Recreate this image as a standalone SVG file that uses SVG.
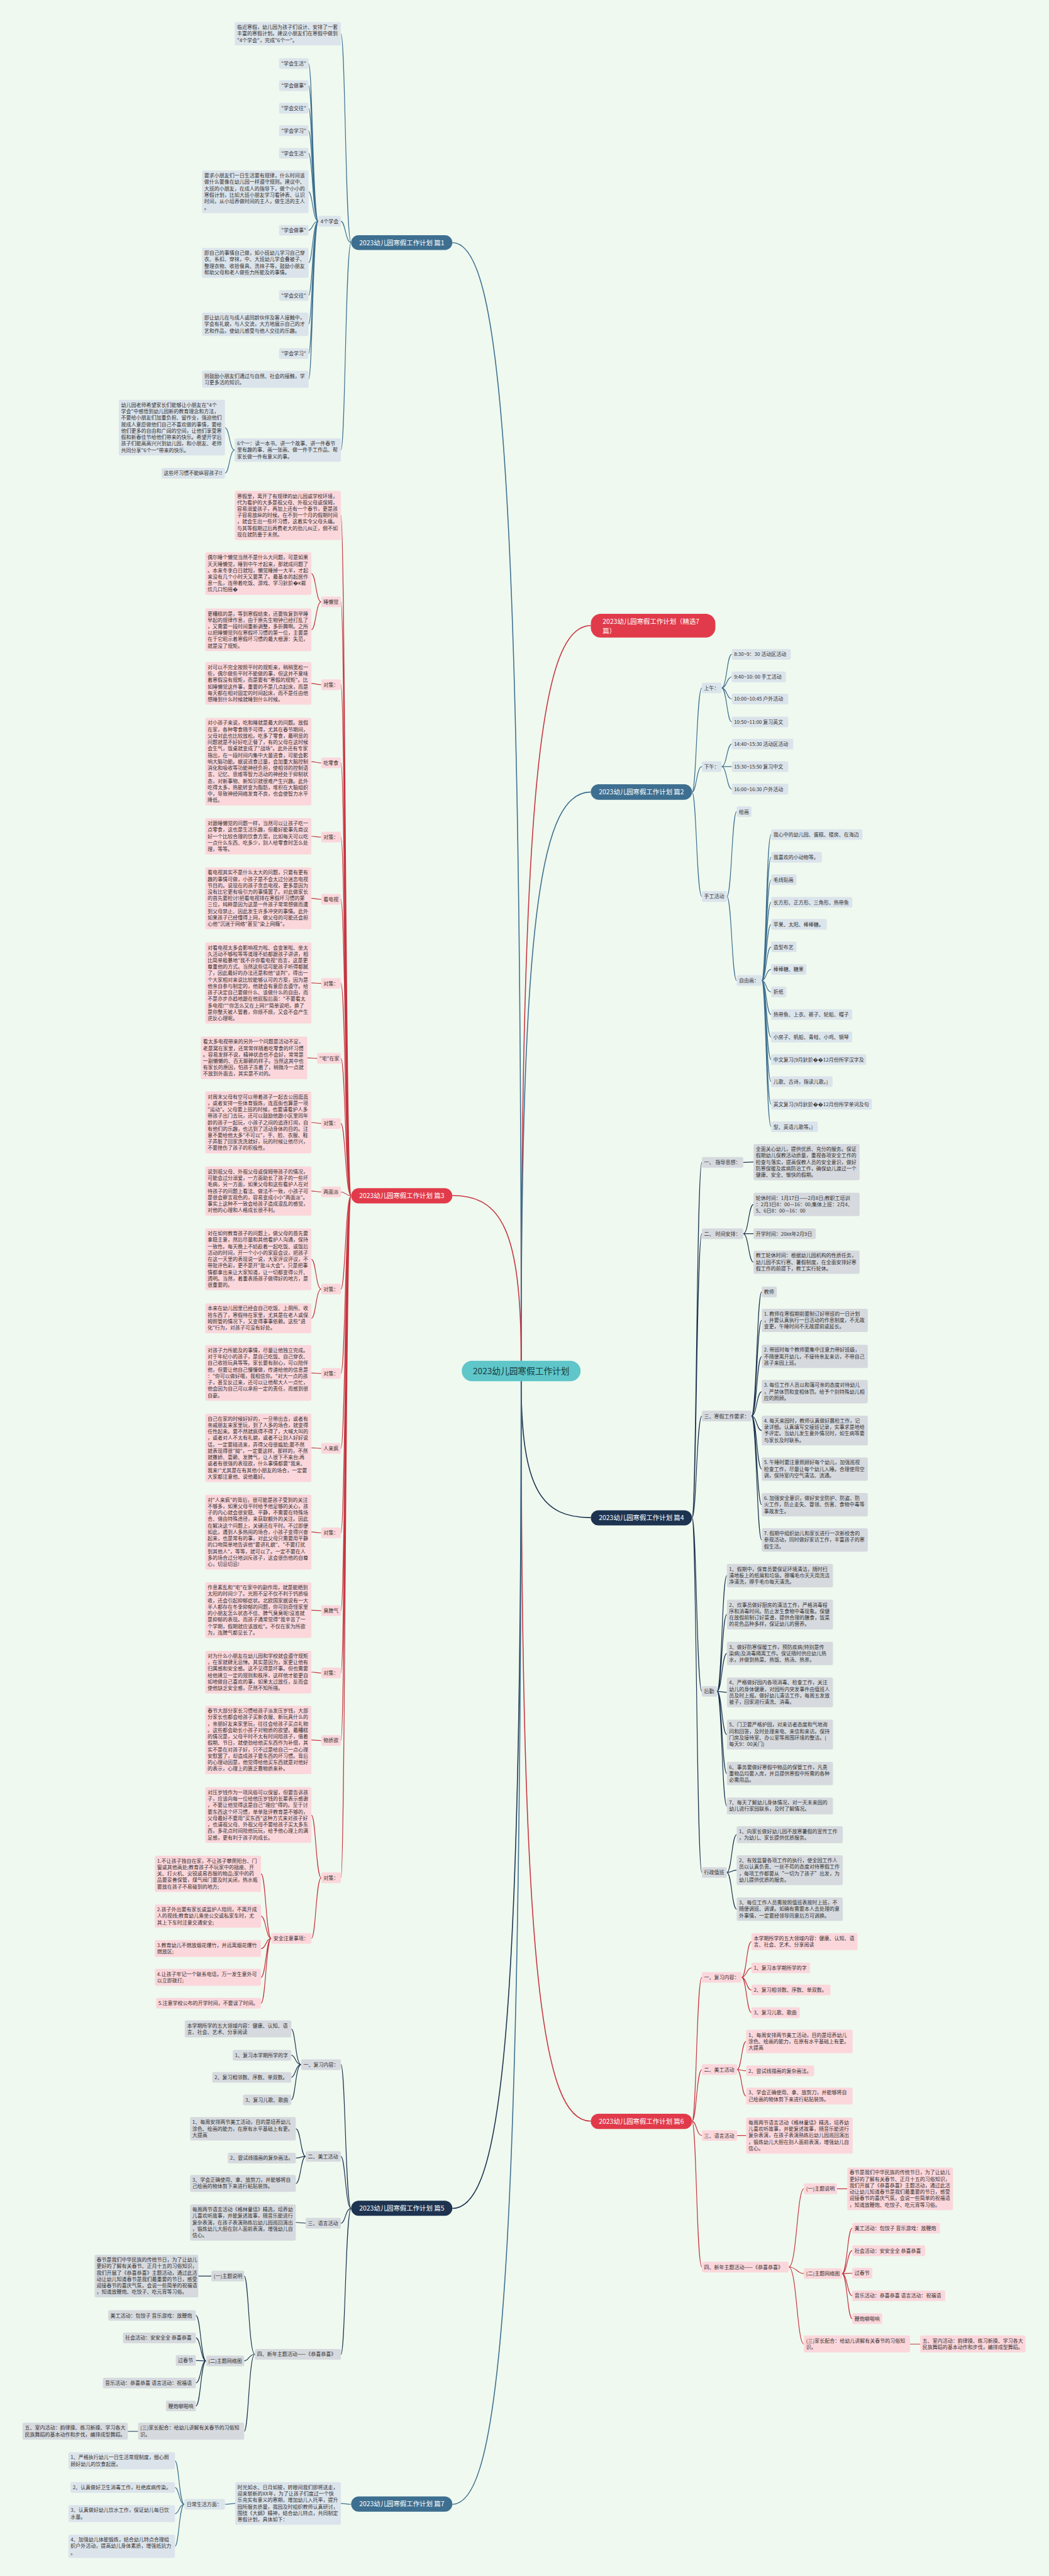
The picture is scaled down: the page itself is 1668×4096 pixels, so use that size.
<svg xmlns="http://www.w3.org/2000/svg" width="1668" height="4096" viewBox="0 0 1668 4096">
<style>
.t{font-family:"Noto Sans CJK SC","Noto Sans",sans-serif;font-size:12.3px;fill:#34302f}
.m{font-family:"Noto Sans CJK SC","Noto Sans",sans-serif;font-size:16px;fill:#fff;text-anchor:middle}
.bb{fill:#dbe4eb}.br{fill:#fbd7dc}.bn{fill:#d6dadf}
.cb{fill:#3e6f90}.cr{fill:#e13b4b}.cn{fill:#1d3350}
.lb,.lr,.ln{fill:none;stroke-width:1.8}
.lb{stroke:#3e6f90}.lr{stroke:#c73440}.ln{stroke:#1d3350}
.w{stroke-width:2.4}
</style>
<rect width="1668" height="4096" fill="#eff9ef"/>
<g transform="scale(0.6515)">
<g id="connectors">
<path class="lb w" d="M1272 3321C1272 1138 1222 592 1104 592"/>
<path class="lr w" d="M1272 3321C1272 1886 1323 1527 1442 1527"/>
<path class="lb w" d="M1272 3321C1272 2211 1323 1933 1442 1933"/>
<path class="lr w" d="M1272 3321C1272 2999 1222 2918 1104 2918"/>
<path class="ln w" d="M1272 3371C1272 3637 1323 3704 1442 3704"/>
<path class="lr w" d="M1272 3371C1272 4816 1323 5177 1442 5177"/>
<path class="ln w" d="M1272 3371C1272 4986 1222 5390 1104 5390"/>
<path class="lb w" d="M1272 3371C1272 5564 1222 6112 1104 6112"/>
<!-- p1 -->
<path class="lb" d="M857 592C843 592 843 82.5 832 82.5M857 592C843 592 843 540 832 540M857 592C843 592 843 1098.5 832 1098.5"/>
<path class="lb" d="M777 540C763 540 763 155 753 155M777 540C763 540 763 209 753 209M777 540C763 540 763 264 753 264M777 540C763 540 763 319 753 319M777 540C763 540 763 374 753 374M777 540C763 540 763 468 753 468M777 540C763 540 763 562 753 562M777 540C763 540 763 641.5 753 641.5M777 540C763 540 763 721 753 721M777 540C763 540 763 791.5 753 791.5M777 540C763 540 763 863 753 863M777 540C763 540 763 925.7 753 925.7"/>
<path class="lb" d="M573 1098.5C560 1098.5 560 1043.8 549 1043.8M573 1098.5C560 1098.5 560 1155 549 1155"/>
<!-- p7 -->
<path class="lb" d="M857 6112C845 6112 845 6110 832 6110M574 6110C561 6110 561 6112 549 6112M450 6112C437 6112 437 6006 427 6006M450 6112C437 6112 437 6071 427 6071M450 6112C437 6112 437 6135 427 6135M450 6112C437 6112 437 6214.5 427 6214.5"/>
<!-- p2 -->
<path class="lb" d="M1689 1933C1700 1933 1700 1679 1713 1679M1689 1933C1700 1933 1700 1871 1713 1871M1689 1933C1700 1933 1700 2188 1713 2188"/>
<path class="lb" d="M1761 1679C1774 1679 1774 1597 1786 1597M1761 1679C1774 1679 1774 1652 1786 1652M1761 1679C1774 1679 1774 1706 1786 1706M1761 1679C1774 1679 1774 1762 1786 1762M1761 1871C1774 1871 1774 1816 1786 1816M1761 1871C1774 1871 1774 1871 1786 1871M1761 1871C1774 1871 1774 1926 1786 1926"/>
<path class="lb" d="M1774 2188C1786 2188 1786 1981 1798 1981M1774 2188C1786 2188 1786 2393 1798 2393"/>
<path class="lb" d="M1859 2393C1870 2393 1870 2037 1882 2037M1859 2393C1870 2393 1870 2092 1882 2092M1859 2393C1870 2393 1870 2147 1882 2147M1859 2393C1870 2393 1870 2202 1882 2202M1859 2393C1870 2393 1870 2256 1882 2256M1859 2393C1870 2393 1870 2311 1882 2311M1859 2393C1870 2393 1870 2366 1882 2366M1859 2393C1870 2393 1870 2421 1882 2421M1859 2393C1870 2393 1870 2476 1882 2476M1859 2393C1870 2393 1870 2531 1882 2531M1859 2393C1870 2393 1870 2586 1882 2586M1859 2393C1870 2393 1870 2640 1882 2640M1859 2393C1870 2393 1870 2695 1882 2695M1859 2393C1870 2393 1870 2750 1882 2750"/>
<!-- p3 -->
<path class="lr" d="M857 2918C843 2918 843 1258 832 1258M857 2918C843 2918 843 1469 832 1469M857 2918C843 2918 843 1671 832 1671M857 2918C843 2918 843 1862 832 1862M857 2918C843 2918 843 2043 832 2043M857 2918C843 2918 843 2195 832 2195M857 2918C843 2918 843 2400 832 2400M857 2918C843 2918 843 2583 832 2583M857 2918C843 2918 843 2742 832 2742M857 2918C843 2918 843 2909 832 2909M857 2918C843 2918 843 3146 832 3146M857 2918C843 2918 843 3352 832 3352M857 2918C843 2918 843 3535 832 3535M857 2918C843 2918 843 3741 832 3741M857 2918C843 2918 843 3931 832 3931M857 2918C843 2918 843 4083 832 4083M857 2918C843 2918 843 4248 832 4248M857 2918C843 2918 843 4583 832 4583"/>
<path class="lr" d="M784 1469C771 1469 771 1400 760 1400M784 1469C771 1469 771 1537 760 1537M784 1671C771 1671 771 1668 760 1668M784 1862C771 1862 771 1859 760 1859M784 2043C771 2043 771 2041 760 2041M784 2195C771 2195 771 2192.5 760 2192.5M784 2400C771 2400 771 2399 760 2399M774 2583C762 2583 762 2582 750 2582M784 2742C771 2742 771 2739.5 760 2739.5M784 2909C771 2909 771 2907 760 2907M784 3146C771 3146 771 3073.5 760 3073.5M784 3146C771 3146 771 3217.5 760 3217.5M784 3352C771 3352 771 3351 760 3351M784 3535C771 3535 771 3533.5 760 3533.5M784 3741C771 3741 771 3739 760 3739M784 3931C771 3931 771 3930 760 3930M784 4083C771 4083 771 4081 760 4081M784 4248C771 4248 771 4246.5 760 4246.5M784 4583C771 4583 771 4430 760 4430M784 4583C771 4583 771 4731 760 4731"/>
<path class="lr" d="M662 4731C649 4731 649 4573 637 4573M662 4731C649 4731 649 4676.5 637 4676.5M662 4731C649 4731 649 4756 637 4756M662 4731C649 4731 649 4826 637 4826M662 4731C649 4731 649 4889 637 4889"/>
<!-- p6 -->
<path class="lr" d="M1689 5177C1700 5177 1700 4826 1713 4826M1689 5177C1700 5177 1700 5051 1713 5051M1689 5177C1700 5177 1700 5212 1713 5212M1689 5177C1700 5177 1700 5533 1713 5533"/>
<path class="lr" d="M1810 4826C1822 4826 1822 4739 1834 4739M1810 4826C1822 4826 1822 4803 1834 4803M1810 4826C1822 4826 1822 4857 1834 4857M1810 4826C1822 4826 1822 4912 1834 4912M1799 5051C1810 5051 1810 4982.5 1821 4982.5M1799 5051C1810 5051 1810 5054 1821 5054M1799 5051C1810 5051 1810 5116 1821 5116M1799 5212L1821 5212"/>
<path class="lr" d="M1925 5533C1945 5533 1945 5342 1962 5342M1925 5533C1945 5533 1945 5549 1962 5549M1925 5533C1945 5533 1945 5721 1962 5721M2043 5342L2068 5342M2221 5721L2246 5721"/>
<path class="lr" d="M2055 5549C2068 5549 2068 5438 2080 5438M2055 5549C2068 5549 2068 5493 2080 5493M2055 5549C2068 5549 2068 5548 2080 5548M2055 5549C2068 5549 2068 5603 2080 5603M2055 5549C2068 5549 2068 5659 2080 5659"/>
<!-- p4 -->
<path class="ln" d="M1689 3704C1700 3704 1700 2837 1713 2837M1689 3704C1700 3704 1700 3011 1713 3011M1689 3704C1700 3704 1700 3456 1713 3456M1689 3704C1700 3704 1700 4128 1713 4128M1689 3704C1700 3704 1700 4570 1713 4570M1814 2837L1839 2836"/>
<path class="ln" d="M1814 3011C1827 3011 1827 2939.5 1839 2939.5M1814 3011C1827 3011 1827 3011 1839 3011M1814 3011C1827 3011 1827 3080.5 1839 3080.5"/>
<path class="ln" d="M1834 3456C1847 3456 1847 3153 1859 3153M1834 3456C1847 3456 1847 3222.5 1859 3222.5M1834 3456C1847 3456 1847 3310.5 1859 3310.5M1834 3456C1847 3456 1847 3396.5 1859 3396.5M1834 3456C1847 3456 1847 3491.4 1859 3491.4M1834 3456C1847 3456 1847 3585.5 1859 3585.5M1834 3456C1847 3456 1847 3672.5 1859 3672.5M1834 3456C1847 3456 1847 3758.5 1859 3758.5"/>
<path class="ln" d="M1750 4128C1762 4128 1762 3845.5 1774 3845.5M1750 4128C1762 4128 1762 3940.4 1774 3940.4M1750 4128C1762 4128 1762 4035.5 1774 4035.5M1750 4128C1762 4128 1762 4130.4 1774 4130.4M1750 4128C1762 4128 1762 4233.4 1774 4233.4M1750 4128C1762 4128 1762 4328.5 1774 4328.5M1750 4128C1762 4128 1762 4407.7 1774 4407.7"/>
<path class="ln" d="M1774 4570C1786 4570 1786 4477.7 1798 4477.7M1774 4570C1786 4570 1786 4564.4 1798 4564.4M1774 4570C1786 4570 1786 4659.5 1798 4659.5"/>
<!-- p5 -->
<path class="ln" d="M857 5390C843 5390 843 5039 832 5039M857 5390C843 5390 843 5263 832 5263M857 5390C843 5390 843 5426 832 5426M857 5390C843 5390 843 5746 832 5746"/>
<path class="ln" d="M735 5039C721 5039 721 4952 711 4952M735 5039C721 5039 721 5016 711 5016M735 5039C721 5039 721 5070 711 5070M735 5039C721 5039 721 5125 711 5125M746 5263C734 5263 734 5195.5 722 5195.5M746 5263C734 5263 734 5267 722 5267M746 5263C734 5263 734 5329 722 5329M746 5426L722 5424"/>
<path class="ln" d="M622 5746C607 5746 607 5555 596 5555M622 5746C607 5746 607 5762 596 5762M622 5746C607 5746 607 5934 596 5934M516 5555L484 5555M337 5934L312 5934"/>
<path class="ln" d="M503 5762C490 5762 490 5651 478 5651M503 5762C490 5762 490 5706 478 5706M503 5762C490 5762 490 5761 478 5761M503 5762C490 5762 490 5816 478 5816M503 5762C490 5762 490 5872 478 5872"/>
</g>

<g id="root"><rect x="1127" y="3321" width="290" height="50" rx="25" fill="#5fc6c9"/><text x="1272" y="3354" font-family="Noto Sans CJK SC, sans-serif" font-size="21" fill="#163a3e" text-anchor="middle">2023幼儿园寒假工作计划</text></g>

<g id="title"><rect class="cr" x="1442" y="1498" width="304" height="58" rx="24"/><text class="m" x="1471" y="1522" text-anchor="start" style="text-anchor:start">2023幼儿园寒假工作计划（精选7<tspan x="1471" dy="23">篇）</tspan></text></g>

<!-- ===== 篇1 ===== -->
<g id="p1"><rect class="cb" x="857" y="574" width="247" height="36" rx="18"/><text class="m" x="980.5" y="598">2023幼儿园寒假工作计划 篇1</text></g>
<g id="p1-intro"><rect class="bb" x="573" y="54" width="259" height="57" rx="4"/><text class="t" x="578.5" y="71">临近寒假，幼儿园为孩子们设计、安排了一套<tspan x="578.5" dy="15.7">丰富的寒假计划。建议小朋友们在寒假中做到</tspan><tspan x="578.5" dy="15.7">"4个学会"，完成"6个一"。</tspan></text></g>
<g id="p1-4"><rect class="bb" x="777" y="527" width="55" height="26" rx="4"/><text class="t" x="782.5" y="544.5">4个学会</text></g>
<g id="p1-4a"><rect class="bb" x="681" y="142" width="72" height="26" rx="4"/><text class="t" x="686.5" y="159.5">"学会生活"</text></g>
<g id="p1-4b"><rect class="bb" x="681" y="196" width="72" height="26" rx="4"/><text class="t" x="686.5" y="213.5">"学会做事"</text></g>
<g id="p1-4c"><rect class="bb" x="681" y="251" width="72" height="26" rx="4"/><text class="t" x="686.5" y="268.5">"学会交往"</text></g>
<g id="p1-4d"><rect class="bb" x="681" y="306" width="72" height="26" rx="4"/><text class="t" x="686.5" y="323.5">"学会学习"</text></g>
<g id="p1-4e"><rect class="bb" x="681" y="361" width="72" height="26" rx="4"/><text class="t" x="686.5" y="378.5">"学会生活"</text></g>
<g id="p1-4f"><rect class="bb" x="493" y="416" width="260" height="104" rx="4"/><text class="t" x="498.5" y="433">要求小朋友们一日生活要有规律，什么时间该<tspan x="498.5" dy="15.7">做什么要像在幼儿园一样遵守规则。建议中、</tspan><tspan x="498.5" dy="15.7">大班的小朋友，在成人的指导下，做个小小的</tspan><tspan x="498.5" dy="15.7">寒假计划，比如大班小朋友学习看钟表、认识</tspan><tspan x="498.5" dy="15.7">时间，从小培养做时间的主人，做生活的主人</tspan><tspan x="498.5" dy="15.7">。</tspan></text></g>
<g id="p1-4g"><rect class="bb" x="681" y="549" width="72" height="26" rx="4"/><text class="t" x="686.5" y="566.5">"学会做事"</text></g>
<g id="p1-4h"><rect class="bb" x="493" y="605" width="260" height="73" rx="4"/><text class="t" x="498.5" y="622">即自己的事情自己做，如小班幼儿学习自己穿<tspan x="498.5" dy="15.7">衣、系扣、穿袜，中、大班幼儿学会叠被子、</tspan><tspan x="498.5" dy="15.7">整理衣物、收拾餐具、洗袜子等，鼓励小朋友</tspan><tspan x="498.5" dy="15.7">帮助父母和老人做些力所能及的事情。</tspan></text></g>
<g id="p1-4i"><rect class="bb" x="681" y="708" width="72" height="26" rx="4"/><text class="t" x="686.5" y="725.5">"学会交往"</text></g>
<g id="p1-4j"><rect class="bb" x="493" y="763" width="260" height="57" rx="4"/><text class="t" x="498.5" y="780">即让幼儿在与成人或同龄伙伴及客人接触中，<tspan x="498.5" dy="15.7">学会有礼貌，与人交流，大方地展示自己的才</tspan><tspan x="498.5" dy="15.7">艺和作品，使幼儿感受与他人交往的乐趣。</tspan></text></g>
<g id="p1-4k"><rect class="bb" x="681" y="850" width="72" height="26" rx="4"/><text class="t" x="686.5" y="867.5">"学会学习"</text></g>
<g id="p1-4l"><rect class="bb" x="493" y="905" width="260" height="41.4" rx="4"/><text class="t" x="498.5" y="922">则鼓励小朋友们通过与自然、社会的接触，学<tspan x="498.5" dy="15.7">习更多活的知识。</tspan></text></g>
<g id="p1-6"><rect class="bb" x="573" y="1070" width="259" height="57" rx="4"/><text class="t" x="578.5" y="1087">6个一：读一本书、讲一个故事、讲一件春节<tspan x="578.5" dy="15.7">里有趣的事、画一张画、做一件手工作品、帮</tspan><tspan x="578.5" dy="15.7">家长做一件有意义的事。</tspan></text></g>
<g id="p1-6a"><rect class="bb" x="290" y="976" width="259" height="135.6" rx="4"/><text class="t" x="295.5" y="993">幼儿园老师希望家长们能够让小朋友在"4个<tspan x="295.5" dy="15.7">学会"中感悟到幼儿园新的教育理念和方法，</tspan><tspan x="295.5" dy="15.7">不要给小朋友们加重负担、留作业，强迫他们</tspan><tspan x="295.5" dy="15.7">按成人意愿做他们自己不喜欢做的事情，要给</tspan><tspan x="295.5" dy="15.7">他们更多的自由和广阔的空间，让他们享受寒</tspan><tspan x="295.5" dy="15.7">假和新春佳节给他们带来的快乐。希望开学后</tspan><tspan x="295.5" dy="15.7">孩子们能高高兴兴到幼儿园，和小朋友、老师</tspan><tspan x="295.5" dy="15.7">共同分享"6个一"带来的快乐。</tspan></text></g>
<g id="p1-6b"><rect class="bb" x="394" y="1142" width="155" height="26" rx="4"/><text class="t" x="399.5" y="1159.5">这些坏习惯不能纵容孩子!!</text></g>

<!-- ===== 篇3 ===== -->
<g id="p3"><rect class="cr" x="857" y="2900" width="247" height="37" rx="18.5"/><text class="m" x="980.5" y="2924">2023幼儿园寒假工作计划 篇3</text></g>
<g id="p3-0"><rect class="br" x="573" y="1198" width="259" height="120" rx="4"/><text class="t" x="578.5" y="1215">寒假里，离开了有规律的幼儿园或学校环境，<tspan x="578.5" dy="15.7">代为看护的大多是祖父母、外祖父母或保姆，</tspan><tspan x="578.5" dy="15.7">容易溺爱孩子，再加上还有一个春节，更是孩</tspan><tspan x="578.5" dy="15.7">子容易放纵的时候。在不到一个月的假期时间</tspan><tspan x="578.5" dy="15.7">，就会生出一些坏习惯，这着实令父母头痛。</tspan><tspan x="578.5" dy="15.7">与其等假期过后再费老大的劲儿纠正，倒不如</tspan><tspan x="578.5" dy="15.7">现在就防患于未然。</tspan></text></g>
<g id="p3-l1"><rect class="br" x="784" y="1456" width="48" height="26" rx="4"/><text class="t" x="789.5" y="1473.5">睡懒觉</text></g>
<g id="p3-l1a"><rect class="br" x="501" y="1348" width="259" height="104" rx="4"/><text class="t" x="506.5" y="1365">偶尔睡个懒觉当然不是什么大问题，可是如果<tspan x="506.5" dy="15.7">天天睡懒觉，睡到中午才起来，那就成问题了</tspan><tspan x="506.5" dy="15.7">。本来冬季白日就短，懒觉睡掉一大半，才起</tspan><tspan x="506.5" dy="15.7">来没有几个小时天又要黑了。最基本的起居作</tspan><tspan x="506.5" dy="15.7">息一乱，连带着吃饭、游戏、学习鈥斺�κ裁</tspan><tspan x="506.5" dy="15.7">炊几口怕摇�</tspan></text></g>
<g id="p3-l1b"><rect class="br" x="501" y="1485" width="259" height="104" rx="4"/><text class="t" x="506.5" y="1502">更糟糕的是，等到寒假结束，还要恢复到早睡<tspan x="506.5" dy="15.7">早起的规律作息，由于原先生物钟已经打乱了</tspan><tspan x="506.5" dy="15.7">，又需要一段时间重新调整，多折腾啊。之所</tspan><tspan x="506.5" dy="15.7">以把睡懒觉列在寒假坏习惯的第一位，主要是</tspan><tspan x="506.5" dy="15.7">在于它昭示着寒假坏习惯的最大根源：失范，</tspan><tspan x="506.5" dy="15.7">就是没了规矩。</tspan></text></g>
<g id="p3-d1"><rect class="br" x="784" y="1658" width="48" height="26" rx="4"/><text class="t" x="789.5" y="1675.5">对策：</text></g>
<g id="p3-d1a"><rect class="br" x="501" y="1616" width="259" height="104" rx="4"/><text class="t" x="506.5" y="1633">对可以不完全按照平时的规矩来，稍稍宽松一<tspan x="506.5" dy="15.7">些，偶尔做些平时不能做的事，但这并不意味</tspan><tspan x="506.5" dy="15.7">着寒假没有规矩，而是要有"寒假的规矩"。比</tspan><tspan x="506.5" dy="15.7">如睡懒觉这件事，重要的不是几点起床，而是</tspan><tspan x="506.5" dy="15.7">每天都在相对固定的时间起床，而不是任由他</tspan><tspan x="506.5" dy="15.7">想睡到什么时候就睡到什么时候。</tspan></text></g>
<g id="p3-l2"><rect class="br" x="784" y="1849" width="48" height="26" rx="4"/><text class="t" x="789.5" y="1866.5">吃零食</text></g>
<g id="p3-l2a"><rect class="br" x="501" y="1752" width="259" height="214" rx="4"/><text class="t" x="506.5" y="1769">对小孩子来说，吃和睡就是最大的问题。放假<tspan x="506.5" dy="15.7">在家，各种零食随手可得，尤其在春节期间，</tspan><tspan x="506.5" dy="15.7">父母对此也比较放松。吃多了零食，最明显的</tspan><tspan x="506.5" dy="15.7">问题就是不好好吃正餐了，有的父母在这时候</tspan><tspan x="506.5" dy="15.7">会生气，饭桌就变成了"战场"。此外还有专家</tspan><tspan x="506.5" dy="15.7">指出，在一段时间内集中大量进食，可能会影</tspan><tspan x="506.5" dy="15.7">响大脑功能。据说进食过量，会加重大脑控制</tspan><tspan x="506.5" dy="15.7">消化和吸收等功能神经负担，使相邻的控制语</tspan><tspan x="506.5" dy="15.7">言、记忆、思维等智力活动的神经处于抑制状</tspan><tspan x="506.5" dy="15.7">态，对新事物、新知识就很难产生兴趣。此外</tspan><tspan x="506.5" dy="15.7">吃得太多，热能转变为脂肪，堆积在大脑组织</tspan><tspan x="506.5" dy="15.7">中，导致神经网络发育不良，也会使智力水平</tspan><tspan x="506.5" dy="15.7">降低。</tspan></text></g>
<g id="p3-d2"><rect class="br" x="784" y="2030" width="48" height="26" rx="4"/><text class="t" x="789.5" y="2047.5">对策：</text></g>
<g id="p3-d2a"><rect class="br" x="501" y="1997" width="259" height="88.5" rx="4"/><text class="t" x="506.5" y="2014">对跟睡懒觉的问题一样，当然可以让孩子吃一<tspan x="506.5" dy="15.7">点零食，这也是生活乐趣，但最好能事先商议</tspan><tspan x="506.5" dy="15.7">好一个比较合理的饮食方案，比如每天可以吃</tspan><tspan x="506.5" dy="15.7">一点什么东西、吃多少，别人给零食时怎么处</tspan><tspan x="506.5" dy="15.7">理，等等。</tspan></text></g>
<g id="p3-l3"><rect class="br" x="784" y="2182" width="48" height="26" rx="4"/><text class="t" x="789.5" y="2199.5">看电视</text></g>
<g id="p3-l3a"><rect class="br" x="501" y="2117" width="259" height="151" rx="4"/><text class="t" x="506.5" y="2134">看电视其实不是什么太大的问题，只要有更有<tspan x="506.5" dy="15.7">趣的事情可做，小孩子是不会太过分迷恋电视</tspan><tspan x="506.5" dy="15.7">节目的。说现在的孩子贪恋电视，更多是因为</tspan><tspan x="506.5" dy="15.7">没有比它更有吸引力的事情罢了。对此做家长</tspan><tspan x="506.5" dy="15.7">的首先要检讨!把看电视排在寒假坏习惯的第</tspan><tspan x="506.5" dy="15.7">三位，纯粹是因为这是一件孩子常常想做而遭</tspan><tspan x="506.5" dy="15.7">到父母禁止、因此发生许多冲突的事情。此外</tspan><tspan x="506.5" dy="15.7">如果孩子已经懂得上网，做父母的可能还会担</tspan><tspan x="506.5" dy="15.7">心他"沉迷于网络"甚至"染上网瘾"。</tspan></text></g>
<g id="p3-d3"><rect class="br" x="784" y="2387" width="48" height="26" rx="4"/><text class="t" x="789.5" y="2404.5">对策：</text></g>
<g id="p3-d3a"><rect class="br" x="501" y="2300" width="259" height="198" rx="4"/><text class="t" x="506.5" y="2317">对看电视太多会影响视力啦、会变笨啦、坐太<tspan x="506.5" dy="15.7">久活动不够啦等等道理不妨都跟孩子讲讲，相</tspan><tspan x="506.5" dy="15.7">比简单粗暴地"我不许你看电视"而言，这是更</tspan><tspan x="506.5" dy="15.7">尊重他的方式。当然这些话可能孩子听得都腻</tspan><tspan x="506.5" dy="15.7">了，因此最好的办法还是和他"谈判"，得出一</tspan><tspan x="506.5" dy="15.7">个大家相对来说比较能够认可的方案，因为是</tspan><tspan x="506.5" dy="15.7">他亲自参与制定的，他就会有意愿去遵守。给</tspan><tspan x="506.5" dy="15.7">孩子决定自己要做什么、该做什么的自由，而</tspan><tspan x="506.5" dy="15.7">不是亦步亦趋地跟在他屁股后面："不要看太</tspan><tspan x="506.5" dy="15.7">多电视!""你怎么又在上网?"简单说吧，换了</tspan><tspan x="506.5" dy="15.7">是你整天被人管着，你烦不烦，又会不会产生</tspan><tspan x="506.5" dy="15.7">逆反心理呢。</tspan></text></g>
<g id="p3-l4"><rect class="br" x="774" y="2570" width="58" height="26" rx="4"/><text class="t" x="779.5" y="2587.5">"宅"在家</text></g>
<g id="p3-l4a"><rect class="br" x="490" y="2530" width="260" height="104" rx="4"/><text class="t" x="495.5" y="2547">看太多电视带来的另外一个问题是活动不足，<tspan x="495.5" dy="15.7">老是窝在家里，还常常伴随着吃零食的坏习惯</tspan><tspan x="495.5" dy="15.7">。容易发胖不说，精神状态也不会好，常常是</tspan><tspan x="495.5" dy="15.7">一副懒懒的、百无聊赖的样子。当然这其中也</tspan><tspan x="495.5" dy="15.7">有家长的原因，怕孩子冻着了，稍微冷一点就</tspan><tspan x="495.5" dy="15.7">不放到外面去，其实是不对的。</tspan></text></g>
<g id="p3-d4"><rect class="br" x="784" y="2729" width="48" height="26" rx="4"/><text class="t" x="789.5" y="2746.5">对策：</text></g>
<g id="p3-d4a"><rect class="br" x="501" y="2664" width="259" height="151" rx="4"/><text class="t" x="506.5" y="2681">对周末父母有空可以带着孩子一起去公园逛逛<tspan x="506.5" dy="15.7">，或者安排一些体育锻炼，连逛街也算是一项</tspan><tspan x="506.5" dy="15.7">"运动"。父母要上班的时候，也要请看护人多</tspan><tspan x="506.5" dy="15.7">带孩子出门去玩，还可以鼓励他跟小区里同年</tspan><tspan x="506.5" dy="15.7">龄的孩子一起玩，小孩子之间的追逐打闹，自</tspan><tspan x="506.5" dy="15.7">有他们的乐趣，也达到了活动身体的目的。注</tspan><tspan x="506.5" dy="15.7">意不要给他太多"不可以"，手、脸、衣服、鞋</tspan><tspan x="506.5" dy="15.7">子弄脏了回家洗洗就好，玩的时候让他尽兴，</tspan><tspan x="506.5" dy="15.7">不要挫伤了孩子的积极性。</tspan></text></g>
<g id="p3-l5"><rect class="br" x="784" y="2896" width="48" height="26" rx="4"/><text class="t" x="789.5" y="2913.5">两面派</text></g>
<g id="p3-l5a"><rect class="br" x="501" y="2847" width="259" height="120" rx="4"/><text class="t" x="506.5" y="2864">说到祖父母、外祖父母或保姆带孩子的情况，<tspan x="506.5" dy="15.7">可能会过分溺爱，一方面助长了孩子的一些坏</tspan><tspan x="506.5" dy="15.7">毛病，另一方面，如果父母和这些看护人在对</tspan><tspan x="506.5" dy="15.7">待孩子的问题上看法、做法不一致，小孩子可</tspan><tspan x="506.5" dy="15.7">是很会察言观色的，容易变成小小"两面派"。</tspan><tspan x="506.5" dy="15.7">事实上这种不一致会给孩子造成混乱的感觉，</tspan><tspan x="506.5" dy="15.7">对他的心理和人格成长很不利。</tspan></text></g>
<g id="p3-d5"><rect class="br" x="784" y="3133" width="48" height="26" rx="4"/><text class="t" x="789.5" y="3150.5">对策：</text></g>
<g id="p3-d5a"><rect class="br" x="501" y="2998" width="259" height="151" rx="4"/><text class="t" x="506.5" y="3015">对在如何教育孩子的问题上，做父母的首先要<tspan x="506.5" dy="15.7">拿稳主意，然后尽量和其他看护人沟通，保持</tspan><tspan x="506.5" dy="15.7">一致性。每天晚上不妨趁着一起吃饭、或饭后</tspan><tspan x="506.5" dy="15.7">活动的时间，开一个小小的家庭会议，把孩子</tspan><tspan x="506.5" dy="15.7">在这一天里的表现说一说，大家评议评议，不</tspan><tspan x="506.5" dy="15.7">带批评色彩，更不是开"批斗大会"，只是把事</tspan><tspan x="506.5" dy="15.7">情都拿出来让大家知道，让一切都变得公开、</tspan><tspan x="506.5" dy="15.7">透明。当然，着重表扬孩子做得好的地方，是</tspan><tspan x="506.5" dy="15.7">很重要的。</tspan></text></g>
<g id="p3-d5b"><rect class="br" x="501" y="3181" width="259" height="73" rx="4"/><text class="t" x="506.5" y="3198">本来在幼儿园里已经会自己吃饭、上厕所、收<tspan x="506.5" dy="15.7">拾东西了，寒假待在家里，尤其是在老人或保</tspan><tspan x="506.5" dy="15.7">姆照管的情况下，又变得事事依赖。这些"退</tspan><tspan x="506.5" dy="15.7">化"行为，对孩子可没有好处。</tspan></text></g>
<g id="p3-d6"><rect class="br" x="784" y="3339" width="48" height="26" rx="4"/><text class="t" x="789.5" y="3356.5">对策：</text></g>
<g id="p3-d6a"><rect class="br" x="501" y="3283" width="259" height="135.6" rx="4"/><text class="t" x="506.5" y="3300">对孩子力所能及的事情，尽量让他独立完成。<tspan x="506.5" dy="15.7">对于年纪小的孩子，是自己吃饭、自己穿衣、</tspan><tspan x="506.5" dy="15.7">自己收拾玩具等等。家长要有耐心，可以陪伴</tspan><tspan x="506.5" dy="15.7">他，但要让他自己慢慢做，传递给他的信息是</tspan><tspan x="506.5" dy="15.7">："你可以做好哦，我相信你。"对大一点的孩</tspan><tspan x="506.5" dy="15.7">子，甚至反过来，还可以让他帮大人一点忙，</tspan><tspan x="506.5" dy="15.7">他会因为自己可以承担一定的责任，而感到很</tspan><tspan x="506.5" dy="15.7">自豪。</tspan></text></g>
<g id="p3-l6"><rect class="br" x="784" y="3522" width="48" height="26" rx="4"/><text class="t" x="789.5" y="3539.5">人来疯</text></g>
<g id="p3-l6a"><rect class="br" x="501" y="3450" width="259" height="167" rx="4"/><text class="t" x="506.5" y="3467">自己在家的时候好好的，一旦带出去，或者有<tspan x="506.5" dy="15.7">亲戚朋友来家里玩，到了人多的场合，就变得</tspan><tspan x="506.5" dy="15.7">任性起来。要不然就疯得不得了，大喊大叫的</tspan><tspan x="506.5" dy="15.7">，或者对人不太有礼貌，或者不让别人好好说</tspan><tspan x="506.5" dy="15.7">话，一定要插进来，弄得父母很尴尬;要不然</tspan><tspan x="506.5" dy="15.7">就表现得很"拗"，一定要这样、那样的，不然</tspan><tspan x="506.5" dy="15.7">就撒娇、耍赖、发脾气，让人很下不来台;再</tspan><tspan x="506.5" dy="15.7">或者有很强的表现欲，什么事情都要"我来、</tspan><tspan x="506.5" dy="15.7">我来!"尤其是在有其他小朋友的场合，一定要</tspan><tspan x="506.5" dy="15.7">大家都注意他、说他最好。</tspan></text></g>
<g id="p3-d7"><rect class="br" x="784" y="3728" width="48" height="26" rx="4"/><text class="t" x="789.5" y="3745.5">对策：</text></g>
<g id="p3-d7a"><rect class="br" x="501" y="3648" width="259" height="182.7" rx="4"/><text class="t" x="506.5" y="3665">对"人来疯"的背后，很可能是孩子受到的关注<tspan x="506.5" dy="15.7">不够多，如果父母平时给予他足够的关心，孩</tspan><tspan x="506.5" dy="15.7">子的内心就会很安稳、平静，不需要在特殊场</tspan><tspan x="506.5" dy="15.7">合、借由特殊途径，来获取额外的关注。因此</tspan><tspan x="506.5" dy="15.7">在解决这个问题上，关键还在平时。不过即便</tspan><tspan x="506.5" dy="15.7">如此，遇到人多热闹的场合，小孩子变得兴奋</tspan><tspan x="506.5" dy="15.7">起来，也是常有的事，对此父母只需要用平静</tspan><tspan x="506.5" dy="15.7">的口吻简单地告诉他"要讲礼貌"、"不要打扰</tspan><tspan x="506.5" dy="15.7">到其他人"，等等，就可以了。一定不要在人</tspan><tspan x="506.5" dy="15.7">多的场合过分地训斥孩子，这会很伤他的自尊</tspan><tspan x="506.5" dy="15.7">心，切忌切忌!</tspan></text></g>
<g id="p3-l7"><rect class="br" x="784" y="3918" width="48" height="26" rx="4"/><text class="t" x="789.5" y="3935.5">臭脾气</text></g>
<g id="p3-l7a"><rect class="br" x="501" y="3862" width="259" height="135.6" rx="4"/><text class="t" x="506.5" y="3879">作息紊乱和"宅"在家中的副作用，就是能晒到<tspan x="506.5" dy="15.7">太阳的时间少了。光照不足不仅不利于钙质吸</tspan><tspan x="506.5" dy="15.7">收，还会引起抑郁症状。北欧国家据说有一大</tspan><tspan x="506.5" dy="15.7">半人都存在冬季抑郁的问题，你可别奇怪家里</tspan><tspan x="506.5" dy="15.7">的小朋友怎么状态不佳、脾气臭臭呢!没准就</tspan><tspan x="506.5" dy="15.7">是抑郁的表现。而孩子通常觉得"我辛苦了一</tspan><tspan x="506.5" dy="15.7">个学期，假期就应该放松"。不仅在家为所欲</tspan><tspan x="506.5" dy="15.7">为，连脾气都见长了。</tspan></text></g>
<g id="p3-d8"><rect class="br" x="784" y="4070" width="48" height="26" rx="4"/><text class="t" x="789.5" y="4087.5">对策：</text></g>
<g id="p3-d8a"><rect class="br" x="501" y="4029" width="259" height="104" rx="4"/><text class="t" x="506.5" y="4046">对为什么小朋友在幼儿园和学校就会遵守规矩<tspan x="506.5" dy="15.7">，在家就肆无忌惮。其实是因为，家更让他有</tspan><tspan x="506.5" dy="15.7">归属感和安全感。这不见得是坏事。但也需要</tspan><tspan x="506.5" dy="15.7">给他建立一定的规则和秩序，这样他才能更自</tspan><tspan x="506.5" dy="15.7">如地做自己喜欢的事，如果太过放任，反而会</tspan><tspan x="506.5" dy="15.7">使他缺乏安全感，茫然不知所措。</tspan></text></g>
<g id="p3-l8"><rect class="br" x="784" y="4235" width="48" height="26" rx="4"/><text class="t" x="789.5" y="4252.5">物质欲</text></g>
<g id="p3-l8a"><rect class="br" x="501" y="4163" width="259" height="167" rx="4"/><text class="t" x="506.5" y="4180">春节大部分家长习惯给孩子派发压岁钱，大部<tspan x="506.5" dy="15.7">分家长也都会给孩子买新衣服、新玩具什么的</tspan><tspan x="506.5" dy="15.7">，亲朋好友来家里玩，往往会给孩子买点礼物</tspan><tspan x="506.5" dy="15.7">。这些都会助长小孩子对物质的欲望。最糟糕</tspan><tspan x="506.5" dy="15.7">的情况是，父母平时不太有时间陪孩子，借着</tspan><tspan x="506.5" dy="15.7">假期、节日，就使劲给他买东西作为补偿，其</tspan><tspan x="506.5" dy="15.7">实不是在对孩子好，只不过是给自己一点心理</tspan><tspan x="506.5" dy="15.7">安慰罢了，却造成孩子要东西的坏习惯。背后</tspan><tspan x="506.5" dy="15.7">的心理动因是，他觉得给他买东西就是对他好</tspan><tspan x="506.5" dy="15.7">的表示，心理上的匮乏靠物质来补。</tspan></text></g>
<g id="p3-d9"><rect class="br" x="784" y="4570" width="48" height="26" rx="4"/><text class="t" x="789.5" y="4587.5">对策：</text></g>
<g id="p3-d9a"><rect class="br" x="501" y="4362" width="259" height="135.6" rx="4"/><text class="t" x="506.5" y="4379">对压岁钱作为一项风俗可以保留，但要告诉孩<tspan x="506.5" dy="15.7">子，应该向每一位给他压岁钱的长辈表示感谢</tspan><tspan x="506.5" dy="15.7">，不要让他觉得这是自己"理应"得的。至于讨</tspan><tspan x="506.5" dy="15.7">要东西这个坏习惯，单单批评教育是不够的，</tspan><tspan x="506.5" dy="15.7">父母最好不要用"买东西"这种方式来对孩子好</tspan><tspan x="506.5" dy="15.7">，也请祖父母、外祖父母不要给孩子买太多东</tspan><tspan x="506.5" dy="15.7">西，多花点时间陪他玩玩，给予他心理上的满</tspan><tspan x="506.5" dy="15.7">足感，更有利于孩子的成长。</tspan></text></g>
<g id="p3-safe"><rect class="br" x="662" y="4718" width="98" height="26" rx="4"/><text class="t" x="667.5" y="4735.5">安全注意事项：</text></g>
<g id="p3-s1"><rect class="br" x="378" y="4529" width="259" height="88.5" rx="4"/><text class="t" x="383.5" y="4546">1.不让孩子独自在家，不让孩子攀爬阳台、门<tspan x="383.5" dy="15.7">窗或其他高处;教育孩子不玩家中的插座、开</tspan><tspan x="383.5" dy="15.7">关、打火机、尖锐或易吞服的物品;家中的药</tspan><tspan x="383.5" dy="15.7">品要妥善保管，煤气阀门要及时关闭，热水瓶</tspan><tspan x="383.5" dy="15.7">要放在孩子不易碰到的地方;</tspan></text></g>
<g id="p3-s2"><rect class="br" x="378" y="4648" width="259" height="57" rx="4"/><text class="t" x="383.5" y="4665">2.孩子外出要有家长或监护人陪同，不离开成<tspan x="383.5" dy="15.7">人的视线;教育幼儿乘坐公交或私家车时，尤</tspan><tspan x="383.5" dy="15.7">其上下车时注意交通安全;</tspan></text></g>
<g id="p3-s3"><rect class="br" x="378" y="4735" width="259" height="41.4" rx="4"/><text class="t" x="383.5" y="4752">3.教育幼儿不燃放烟花爆竹，并远离烟花爆竹<tspan x="383.5" dy="15.7">燃放区;</tspan></text></g>
<g id="p3-s4"><rect class="br" x="378" y="4805" width="259" height="41.4" rx="4"/><text class="t" x="383.5" y="4822">4.让孩子牢记一个联系电话，万一发生意外可<tspan x="383.5" dy="15.7">以立即拨打;</tspan></text></g>
<g id="p3-s5"><rect class="br" x="381" y="4876" width="256" height="26" rx="4"/><text class="t" x="386.5" y="4893.5">5.注意学校公布的开学时间，不要误了时间。</text></g>

<!-- ===== 篇5 ===== -->
<g id="p5"><rect class="cn" x="857" y="5371" width="247" height="37" rx="18.5"/><text class="m" x="980.5" y="5395">2023幼儿园寒假工作计划 篇5</text></g>
<g id="p5-1"><rect class="bn" x="735" y="5026" width="97" height="26" rx="4"/><text class="t" x="740.5" y="5043.5">一、复习内容：</text></g>
<g id="p5-1a"><rect class="bn" x="451" y="4931" width="260" height="41.4" rx="4"/><text class="t" x="456.5" y="4948">本学期所学的五大领域内容：健康、认知、语<tspan x="456.5" dy="15.7">言、社会、艺术、分享阅读</tspan></text></g>
<g id="p5-1b"><rect class="bn" x="568" y="5003" width="143" height="26" rx="4"/><text class="t" x="573.5" y="5020.5">1、复习本学期所学的字</text></g>
<g id="p5-1c"><rect class="bn" x="518" y="5057" width="193" height="26" rx="4"/><text class="t" x="523.5" y="5074.5">2、复习相邻数、序数、单双数。</text></g>
<g id="p5-1d"><rect class="bn" x="593" y="5112" width="118" height="26" rx="4"/><text class="t" x="598.5" y="5129.5">3、复习儿歌、歌曲</text></g>
<g id="p5-2"><rect class="bn" x="746" y="5250" width="86" height="26" rx="4"/><text class="t" x="751.5" y="5267.5">二、美工活动</text></g>
<g id="p5-2a"><rect class="bn" x="464" y="5167" width="258" height="57" rx="4"/><text class="t" x="469.5" y="5184">1、每周安排两节美工活动，目的是培养幼儿<tspan x="469.5" dy="15.7">涂色、绘画的能力，在原有水平基础上有更。</tspan><tspan x="469.5" dy="15.7">大提高</tspan></text></g>
<g id="p5-2b"><rect class="bn" x="556" y="5254" width="166" height="26" rx="4"/><text class="t" x="561.5" y="5271.5">2、尝试线描画的复杂画法。</text></g>
<g id="p5-2c"><rect class="bn" x="464" y="5308" width="258" height="41.4" rx="4"/><text class="t" x="469.5" y="5325">3、学会正确使用、拿、放剪刀，并能够将自<tspan x="469.5" dy="15.7">己绘画的物体剪下来进行粘贴装饰。</tspan></text></g>
<g id="p5-3"><rect class="bn" x="746" y="5413" width="86" height="26" rx="4"/><text class="t" x="751.5" y="5430.5">三、语言活动</text></g>
<g id="p5-3a"><rect class="bn" x="464" y="5380" width="258" height="88.5" rx="4"/><text class="t" x="469.5" y="5397">每周两节语言活动《格林童话》精选，培养幼<tspan x="469.5" dy="15.7">儿喜欢听故事，并能复述故事，随音乐能进行</tspan><tspan x="469.5" dy="15.7">复杂表演，在孩子表演熟练后幼儿园巡回演出</tspan><tspan x="469.5" dy="15.7">，锻炼幼儿大胆在别人面前表演，增强幼儿自</tspan><tspan x="469.5" dy="15.7">信心。</tspan></text></g>
<g id="p5-4"><rect class="bn" x="622" y="5733" width="210" height="26" rx="4"/><text class="t" x="627.5" y="5750.5">四、新年主题活动——《恭喜恭喜》</text></g>
<g id="p5-4a"><rect class="bn" x="516" y="5542" width="80" height="26" rx="4"/><text class="t" x="521.5" y="5559.5">(一)主题说明</text></g>
<g id="p5-4a1"><rect class="bn" x="231" y="5503" width="253" height="104" rx="4"/><text class="t" x="235.5" y="5520">春节是我们中华民族的传统节日，为了让幼儿<tspan x="235.5" dy="15.7">更好的了解有关春节、正月十五的习俗知识，</tspan><tspan x="235.5" dy="15.7">我们开展了《恭喜恭喜》主题活动，通过此活</tspan><tspan x="235.5" dy="15.7">动让幼儿知道春节是我们最重要的节日，感受</tspan><tspan x="235.5" dy="15.7">迎接春节的喜庆气氛，会说一些简单的祝福语</tspan><tspan x="235.5" dy="15.7">，知道放鞭炮、吃饺子、吃元宵等习俗。</tspan></text></g>
<g id="p5-4b"><rect class="bn" x="503" y="5749" width="93" height="26" rx="4"/><text class="t" x="508.5" y="5766.5">(二)主题网络图</text></g>
<g id="p5-4b1"><rect class="bn" x="264" y="5638" width="214" height="26" rx="4"/><text class="t" x="269.5" y="5655.5">美工活动：包饺子 音乐游戏：放鞭炮</text></g>
<g id="p5-4b2"><rect class="bn" x="300" y="5693" width="178" height="26" rx="4"/><text class="t" x="305.5" y="5710.5">社会活动：安安全全 恭喜恭喜</text></g>
<g id="p5-4b3"><rect class="bn" x="429" y="5748" width="49" height="26" rx="4"/><text class="t" x="434.5" y="5765.5">过春节</text></g>
<g id="p5-4b4"><rect class="bn" x="251" y="5803" width="227" height="26" rx="4"/><text class="t" x="256.5" y="5820.5">音乐活动：恭喜恭喜 语言活动：祝福语</text></g>
<g id="p5-4b5"><rect class="bn" x="405" y="5859" width="73" height="26" rx="4"/><text class="t" x="410.5" y="5876.5">鞭炮噼啪响</text></g>
<g id="p5-4c"><rect class="bn" x="337" y="5913" width="259" height="41.4" rx="4"/><text class="t" x="342.5" y="5930">(三)家长配合：给幼儿讲解有关春节的习俗知<tspan x="342.5" dy="15.7">识。</tspan></text></g>
<g id="p5-5"><rect class="bn" x="55" y="5913" width="257" height="41.4" rx="4"/><text class="t" x="60.5" y="5930">五、室内活动：韵律操、练习新操、学习各大<tspan x="60.5" dy="15.7">民族舞蹈的基本动作和步伐，编排成型舞蹈。</tspan></text></g>

<!-- ===== 篇7 ===== -->
<g id="p7"><rect class="cb" x="857" y="6093" width="247" height="37" rx="18.5"/><text class="m" x="980.5" y="6117">2023幼儿园寒假工作计划 篇7</text></g>
<g id="p7-a"><rect class="bb" x="574" y="6058" width="258" height="104" rx="4"/><text class="t" x="579.5" y="6075">时光如水、日月如梭，转眼间我们即将送走，<tspan x="579.5" dy="15.7">迎来崭新的XX年，为了让孩子们度过一个快</tspan><tspan x="579.5" dy="15.7">乐充实有意义的寒期，增加幼儿入托率，提升</tspan><tspan x="579.5" dy="15.7">园所服务质量，我园及时组织教师认真研讨，</tspan><tspan x="579.5" dy="15.7">围绕《大纲》精神，结合幼儿特点，共同制定</tspan><tspan x="579.5" dy="15.7">寒假计划，具体如下：</tspan></text></g>
<g id="p7-b"><rect class="bb" x="450" y="6099" width="99" height="26" rx="4"/><text class="t" x="455.5" y="6116.5">日常生活方面：</text></g>
<g id="p7-b1"><rect class="bb" x="167" y="5985" width="260" height="41.4" rx="4"/><text class="t" x="172.5" y="6002">1、严格执行幼儿一日生活常规制度，细心照<tspan x="172.5" dy="15.7">顾好幼儿的饮食起居。</tspan></text></g>
<g id="p7-b2"><rect class="bb" x="172" y="6058" width="255" height="26" rx="4"/><text class="t" x="177.5" y="6075.5">2、认真做好卫生消毒工作，杜绝疾病传染。</text></g>
<g id="p7-b3"><rect class="bb" x="167" y="6114" width="260" height="41.4" rx="4"/><text class="t" x="172.5" y="6131">3、认真做好幼儿饮水工作，保证幼儿每日饮<tspan x="172.5" dy="15.7">水量。</tspan></text></g>
<g id="p7-b4"><rect class="bb" x="167" y="6186" width="260" height="57" rx="4"/><text class="t" x="172.5" y="6203">4、加强幼儿体能锻炼，结合幼儿特点合理组<tspan x="172.5" dy="15.7">织户外活动，提高幼儿身体素质，增强抵抗力</tspan><tspan x="172.5" dy="15.7">。</tspan></text></g>

<!-- ===== 篇2 ===== -->
<g id="p2"><rect class="cb" x="1442" y="1914" width="247" height="38" rx="19"/><text class="m" x="1565.5" y="1938.5">2023幼儿园寒假工作计划 篇2</text></g>
<g id="p2-am"><rect class="bb" x="1713" y="1666" width="48" height="26" rx="4"/><text class="t" x="1718.5" y="1683.5">上午：</text></g>
<g id="p2-am1"><rect class="bb" x="1786" y="1584" width="144" height="26" rx="4"/><text class="t" x="1791.5" y="1601.5">8:30~9：30 活动区活动</text></g>
<g id="p2-am2"><rect class="bb" x="1786" y="1639" width="132" height="26" rx="4"/><text class="t" x="1791.5" y="1656.5">9:40~10: 00 手工活动</text></g>
<g id="p2-am3"><rect class="bb" x="1786" y="1693" width="138" height="26" rx="4"/><text class="t" x="1791.5" y="1710.5">10:00~10:45 户外活动</text></g>
<g id="p2-am4"><rect class="bb" x="1786" y="1749" width="138" height="26" rx="4"/><text class="t" x="1791.5" y="1766.5">10:50~11:00 复习英文</text></g>
<g id="p2-pm"><rect class="bb" x="1713" y="1858" width="48" height="26" rx="4"/><text class="t" x="1718.5" y="1875.5">下午：</text></g>
<g id="p2-pm1"><rect class="bb" x="1786" y="1803" width="150" height="26" rx="4"/><text class="t" x="1791.5" y="1820.5">14:40~15:30 活动区活动</text></g>
<g id="p2-pm2"><rect class="bb" x="1786" y="1858" width="138" height="26" rx="4"/><text class="t" x="1791.5" y="1875.5">15:30~15:50 复习中文</text></g>
<g id="p2-pm3"><rect class="bb" x="1786" y="1913" width="138" height="26" rx="4"/><text class="t" x="1791.5" y="1930.5">16:00~16:30 户外活动</text></g>
<g id="p2-sg"><rect class="bb" x="1713" y="2175" width="61" height="26" rx="4"/><text class="t" x="1718.5" y="2192.5">手工活动</text></g>
<g id="p2-sg1"><rect class="bb" x="1798" y="1968" width="36" height="26" rx="4"/><text class="t" x="1803.5" y="1985.5">绘画</text></g>
<g id="p2-sg2"><rect class="bb" x="1798" y="2380" width="61" height="26" rx="4"/><text class="t" x="1803.5" y="2397.5">自由画：</text></g>
<g id="p2-z1"><rect class="bb" x="1882" y="2024" width="223" height="26" rx="4"/><text class="t" x="1887.5" y="2041.5">我心中的幼儿园、蛋糕、楼房、在海边</text></g>
<g id="p2-z2"><rect class="bb" x="1882" y="2079" width="124" height="26" rx="4"/><text class="t" x="1887.5" y="2096.5">我喜欢的小动物等。</text></g>
<g id="p2-z3"><rect class="bb" x="1882" y="2134" width="62" height="26" rx="4"/><text class="t" x="1887.5" y="2151.5">毛线贴画</text></g>
<g id="p2-z4"><rect class="bb" x="1882" y="2189" width="198" height="26" rx="4"/><text class="t" x="1887.5" y="2206.5">长方形、正方形、三角形、热带鱼</text></g>
<g id="p2-z5"><rect class="bb" x="1882" y="2243" width="136" height="26" rx="4"/><text class="t" x="1887.5" y="2260.5">苹果、太阳、棒棒糖。</text></g>
<g id="p2-z6"><rect class="bb" x="1882" y="2298" width="62" height="26" rx="4"/><text class="t" x="1887.5" y="2315.5">造型布艺</text></g>
<g id="p2-z7"><rect class="bb" x="1882" y="2353" width="86" height="26" rx="4"/><text class="t" x="1887.5" y="2370.5">棒棒糖、糖果</text></g>
<g id="p2-z8"><rect class="bb" x="1882" y="2408" width="37" height="26" rx="4"/><text class="t" x="1887.5" y="2425.5">折纸</text></g>
<g id="p2-z9"><rect class="bb" x="1882" y="2463" width="198" height="26" rx="4"/><text class="t" x="1887.5" y="2480.5">热带鱼、上衣、裤子、轮船、帽子</text></g>
<g id="p2-z10"><rect class="bb" x="1882" y="2518" width="198" height="26" rx="4"/><text class="t" x="1887.5" y="2535.5">小房子、帆船、青蛙、小鸡、钢琴</text></g>
<g id="p2-z11"><rect class="bb" x="1882" y="2573" width="232" height="26" rx="4"/><text class="t" x="1887.5" y="2590.5">中文复习(9月鈥斺��12月份所学汉字及</text></g>
<g id="p2-z12"><rect class="bb" x="1882" y="2627" width="150" height="26" rx="4"/><text class="t" x="1887.5" y="2644.5">儿歌、古诗，指读儿歌。)</text></g>
<g id="p2-z13"><rect class="bb" x="1882" y="2682" width="246" height="26" rx="4"/><text class="t" x="1887.5" y="2699.5">英文复习(9月鈥斺��12月份所学单词及句</text></g>
<g id="p2-z14"><rect class="bb" x="1882" y="2737" width="114" height="26" rx="4"/><text class="t" x="1887.5" y="2754.5">型、英语儿歌等。)</text></g>

<!-- ===== 篇4 ===== -->
<g id="p4"><rect class="cn" x="1442" y="3686" width="247" height="37" rx="18.5"/><text class="m" x="1565.5" y="3710">2023幼儿园寒假工作计划 篇4</text></g>
<g id="p4-1"><rect class="bn" x="1713" y="2824" width="101" height="26" rx="4"/><text class="t" x="1718.5" y="2841.5">一、 指导思想：</text></g>
<g id="p4-1a"><rect class="bn" x="1839" y="2792" width="259" height="88.5" rx="4"/><text class="t" x="1844.5" y="2809">全面关心幼儿，提供优质、充分的服务。保证<tspan x="1844.5" dy="15.7">假期幼儿保教活动质量，重视各项安全工作的</tspan><tspan x="1844.5" dy="15.7">检查与落实，提高保教人员的安全意识，做好</tspan><tspan x="1844.5" dy="15.7">防寒保暖及疾病防治工作，确保幼儿渡过一个</tspan><tspan x="1844.5" dy="15.7">健康、安全、愉快的假期。</tspan></text></g>
<g id="p4-2"><rect class="bn" x="1713" y="2998" width="101" height="26" rx="4"/><text class="t" x="1718.5" y="3015.5">二、 时间安排：</text></g>
<g id="p4-2a"><rect class="bn" x="1839" y="2911" width="259" height="57" rx="4"/><text class="t" x="1844.5" y="2928">轮休时间：1月17日——2月8日;教职工培训<tspan x="1844.5" dy="15.7">：2月3日8：00—16：00;集体上班：2月4、</tspan><tspan x="1844.5" dy="15.7">5、6日8：00—16：00</tspan></text></g>
<g id="p4-2b"><rect class="bn" x="1839" y="2998" width="152" height="26" rx="4"/><text class="t" x="1844.5" y="3015.5">开学时间：20xx年2月9日</text></g>
<g id="p4-2c"><rect class="bn" x="1839" y="3052" width="259" height="57" rx="4"/><text class="t" x="1844.5" y="3069">教工轮休时间：根据幼儿园机构的性质任务，<tspan x="1844.5" dy="15.7">幼儿园不实行寒、暑假制度，在全面安排好寒</tspan><tspan x="1844.5" dy="15.7">假工作的前提下，教工实行轮休。</tspan></text></g>
<g id="p4-3"><rect class="bn" x="1713" y="3443" width="121" height="26" rx="4"/><text class="t" x="1718.5" y="3460.5">三、寒假工作要求：</text></g>
<g id="p4-3t"><rect class="bn" x="1859" y="3140" width="37" height="26" rx="4"/><text class="t" x="1864.5" y="3157.5">教师</text></g>
<g id="p4-3a"><rect class="bn" x="1859" y="3194" width="259" height="57" rx="4"/><text class="t" x="1864.5" y="3211">1. 教师在寒假期前要制订好带班的一日计划<tspan x="1864.5" dy="15.7">，并要认真执行一日活动的作息制度，不无故</tspan><tspan x="1864.5" dy="15.7">变更，午睡时间不无故提前或延长。</tspan></text></g>
<g id="p4-3b"><rect class="bn" x="1859" y="3282" width="259" height="57" rx="4"/><text class="t" x="1864.5" y="3299">2. 带班时每个教师要集中注意力带好班级，<tspan x="1864.5" dy="15.7">不随便离开幼儿，不接待亲友来访，不带自己</tspan><tspan x="1864.5" dy="15.7">孩子来园上班。</tspan></text></g>
<g id="p4-3c"><rect class="bn" x="1859" y="3368" width="259" height="57" rx="4"/><text class="t" x="1864.5" y="3385">3. 每位工作人员以和蔼可亲的态度对待幼儿<tspan x="1864.5" dy="15.7">，严禁体罚和变相体罚。给予个别特殊幼儿相</tspan><tspan x="1864.5" dy="15.7">应的照顾。</tspan></text></g>
<g id="p4-3d"><rect class="bn" x="1859" y="3455" width="259" height="72.8" rx="4"/><text class="t" x="1864.5" y="3472">4. 每天来园时，教师认真做好晨检工作，记<tspan x="1864.5" dy="15.7">录详细。认真填写交接班记录，实事求是地给</tspan><tspan x="1864.5" dy="15.7">予评定。当幼儿发生意外情况时，如生病等要</tspan><tspan x="1864.5" dy="15.7">与家长及时联系。</tspan></text></g>
<g id="p4-3e"><rect class="bn" x="1859" y="3557" width="259" height="57" rx="4"/><text class="t" x="1864.5" y="3574">5. 午睡时要注意照顾好每个幼儿，加强巡视<tspan x="1864.5" dy="15.7">检查工作，尽量让每个幼儿入睡。合理使用空</tspan><tspan x="1864.5" dy="15.7">调，保持室内空气清洁、流通。</tspan></text></g>
<g id="p4-3f"><rect class="bn" x="1859" y="3644" width="259" height="57" rx="4"/><text class="t" x="1864.5" y="3661">6. 加强安全意识，做好安全防护、防盗、防<tspan x="1864.5" dy="15.7">火工作，防止走失、冒领、伤害、食物中毒等</tspan><tspan x="1864.5" dy="15.7">事故发生。</tspan></text></g>
<g id="p4-3g"><rect class="bn" x="1859" y="3730" width="259" height="57" rx="4"/><text class="t" x="1864.5" y="3747">7. 假期中组织幼儿和家长进行一次新校舍的<tspan x="1864.5" dy="15.7">参观活动，同时做好家访工作，丰富孩子的寒</tspan><tspan x="1864.5" dy="15.7">假生活。</tspan></text></g>
<g id="p4-4"><rect class="bn" x="1713" y="4115" width="37" height="26" rx="4"/><text class="t" x="1718.5" y="4132.5">后勤</text></g>
<g id="p4-4a"><rect class="bn" x="1774" y="3817" width="259" height="57" rx="4"/><text class="t" x="1779.5" y="3834">1、假期中，保育员要保证环境清洁，随时扫<tspan x="1779.5" dy="15.7">清地板上的纸屑和垃圾。擦嘴毛巾天天用洗洁</tspan><tspan x="1779.5" dy="15.7">净清洗，擦手毛巾每天清洗。</tspan></text></g>
<g id="p4-4b"><rect class="bn" x="1774" y="3904" width="259" height="72.8" rx="4"/><text class="t" x="1779.5" y="3921">2、炊事员做好厨房的清洁工作，严格消毒程<tspan x="1779.5" dy="15.7">序和消毒时间。防止发生食物中毒现象。保健</tspan><tspan x="1779.5" dy="15.7">在放假前制订好菜谱，提供合理的膳食，饭菜</tspan><tspan x="1779.5" dy="15.7">的花色品种多样，保证幼儿的营养。</tspan></text></g>
<g id="p4-4c"><rect class="bn" x="1774" y="4007" width="259" height="57" rx="4"/><text class="t" x="1779.5" y="4024">3、做好防寒保暖工作，预防疾病(特别是传<tspan x="1779.5" dy="15.7">染病)及消毒隔离工作。保证随时供应幼儿热</tspan><tspan x="1779.5" dy="15.7">水，并做到热菜、热饭、热汤、热茶。</tspan></text></g>
<g id="p4-4d"><rect class="bn" x="1774" y="4094" width="259" height="72.8" rx="4"/><text class="t" x="1779.5" y="4111">4、严格做好园内各项消毒、检查工作，关注<tspan x="1779.5" dy="15.7">幼儿的身体健康，对园所内突发事件由值班人</tspan><tspan x="1779.5" dy="15.7">员及时上报。做好幼儿清洁工作，每周五发放</tspan><tspan x="1779.5" dy="15.7">被子，回家进行清洗、消毒。</tspan></text></g>
<g id="p4-4e"><rect class="bn" x="1774" y="4197" width="259" height="72.8" rx="4"/><text class="t" x="1779.5" y="4214">5、门卫要严格护园，对来访者态度和气地询<tspan x="1779.5" dy="15.7">问和回答，及时处理来电、来信和来访。保持</tspan><tspan x="1779.5" dy="15.7">门房及接待室、办公室等周围环境的整洁。(</tspan><tspan x="1779.5" dy="15.7">每天9：00关门)</tspan></text></g>
<g id="p4-4f"><rect class="bn" x="1774" y="4300" width="259" height="57" rx="4"/><text class="t" x="1779.5" y="4317">6、事务要做好寒假中物品的保管工作，凡贵<tspan x="1779.5" dy="15.7">重物品均要入库，并且提供寒假中所需的各种</tspan><tspan x="1779.5" dy="15.7">必需用品。</tspan></text></g>
<g id="p4-4g"><rect class="bn" x="1774" y="4387" width="259" height="41.4" rx="4"/><text class="t" x="1779.5" y="4404">7、每天了解幼儿身体情况，对一天未来园的<tspan x="1779.5" dy="15.7">幼儿进行家园联系，及时了解情况。</tspan></text></g>
<g id="p4-5"><rect class="bn" x="1713" y="4557" width="61" height="26" rx="4"/><text class="t" x="1718.5" y="4574.5">行政值班</text></g>
<g id="p4-5a"><rect class="bn" x="1798" y="4457" width="259" height="41.4" rx="4"/><text class="t" x="1803.5" y="4474">1、向家长做好幼儿园不放寒暑假的宣传工作<tspan x="1803.5" dy="15.7">，为幼儿、家长提供优质服务。</tspan></text></g>
<g id="p4-5b"><rect class="bn" x="1798" y="4528" width="259" height="72.8" rx="4"/><text class="t" x="1803.5" y="4545">2、有效监督各项工作的执行，使全园工作人<tspan x="1803.5" dy="15.7">员以认真负责、一丝不苟的态度对待寒假工作</tspan><tspan x="1803.5" dy="15.7">，每项工作都要从“一切为了孩子”出发，为</tspan><tspan x="1803.5" dy="15.7">幼儿提供优质的服务。</tspan></text></g>
<g id="p4-5c"><rect class="bn" x="1798" y="4631" width="259" height="57" rx="4"/><text class="t" x="1803.5" y="4648">3、每位工作人员需按照值班表按时上班，不<tspan x="1803.5" dy="15.7">随便调班、调课。如确有需要本人去处理的意</tspan><tspan x="1803.5" dy="15.7">外事情，一定要经领导同意后方可调换。</tspan></text></g>

<!-- ===== 篇6 ===== -->
<g id="p6"><rect class="cr" x="1442" y="5159" width="247" height="37" rx="18.5"/><text class="m" x="1565.5" y="5183">2023幼儿园寒假工作计划 篇6</text></g>
<g id="p6-1"><rect class="br" x="1713" y="4813" width="97" height="26" rx="4"/><text class="t" x="1718.5" y="4830.5">一、复习内容：</text></g>
<g id="p6-1a"><rect class="br" x="1834" y="4718" width="259" height="41.4" rx="4"/><text class="t" x="1839.5" y="4735">本学期所学的五大领域内容：健康、认知、语<tspan x="1839.5" dy="15.7">言、社会、艺术、分享阅读</tspan></text></g>
<g id="p6-1b"><rect class="br" x="1834" y="4790" width="143" height="26" rx="4"/><text class="t" x="1839.5" y="4807.5">1、复习本学期所学的字</text></g>
<g id="p6-1c"><rect class="br" x="1834" y="4844" width="193" height="26" rx="4"/><text class="t" x="1839.5" y="4861.5">2、复习相邻数、序数、单双数。</text></g>
<g id="p6-1d"><rect class="br" x="1834" y="4899" width="118" height="26" rx="4"/><text class="t" x="1839.5" y="4916.5">3、复习儿歌、歌曲</text></g>
<g id="p6-2"><rect class="br" x="1713" y="5038" width="86" height="26" rx="4"/><text class="t" x="1718.5" y="5055.5">二、美工活动</text></g>
<g id="p6-2a"><rect class="br" x="1821" y="4954" width="260" height="57" rx="4"/><text class="t" x="1826.5" y="4971">1、每周安排两节美工活动，目的是培养幼儿<tspan x="1826.5" dy="15.7">涂色、绘画的能力，在原有水平基础上有更。</tspan><tspan x="1826.5" dy="15.7">大提高</tspan></text></g>
<g id="p6-2b"><rect class="br" x="1821" y="5041" width="166" height="26" rx="4"/><text class="t" x="1826.5" y="5058.5">2、尝试线描画的复杂画法。</text></g>
<g id="p6-2c"><rect class="br" x="1821" y="5095" width="260" height="41.4" rx="4"/><text class="t" x="1826.5" y="5112">3、学会正确使用、拿、放剪刀，并能够将自<tspan x="1826.5" dy="15.7">己绘画的物体剪下来进行粘贴装饰。</tspan></text></g>
<g id="p6-3"><rect class="br" x="1713" y="5199" width="86" height="26" rx="4"/><text class="t" x="1718.5" y="5216.5">三、语言活动</text></g>
<g id="p6-3a"><rect class="br" x="1821" y="5168" width="260" height="88.5" rx="4"/><text class="t" x="1826.5" y="5185">每周两节语言活动《格林童话》精选，培养幼<tspan x="1826.5" dy="15.7">儿喜欢听故事，并能复述故事，随音乐能进行</tspan><tspan x="1826.5" dy="15.7">复杂表演，在孩子表演熟练后幼儿园巡回演出</tspan><tspan x="1826.5" dy="15.7">，锻炼幼儿大胆在别人面前表演，增强幼儿自</tspan><tspan x="1826.5" dy="15.7">信心。</tspan></text></g>
<g id="p6-4"><rect class="br" x="1713" y="5520" width="212" height="26" rx="4"/><text class="t" x="1718.5" y="5537.5">四、新年主题活动——《恭喜恭喜》</text></g>
<g id="p6-4a"><rect class="br" x="1962" y="5329" width="81" height="26" rx="4"/><text class="t" x="1967.5" y="5346.5">(一)主题说明</text></g>
<g id="p6-4a1"><rect class="br" x="2068" y="5290" width="258" height="104" rx="4"/><text class="t" x="2073.5" y="5307">春节是我们中华民族的传统节日，为了让幼儿<tspan x="2073.5" dy="15.7">更好的了解有关春节、正月十五的习俗知识，</tspan><tspan x="2073.5" dy="15.7">我们开展了《恭喜恭喜》主题活动，通过此活</tspan><tspan x="2073.5" dy="15.7">动让幼儿知道春节是我们最重要的节日，感受</tspan><tspan x="2073.5" dy="15.7">迎接春节的喜庆气氛，会说一些简单的祝福语</tspan><tspan x="2073.5" dy="15.7">，知道放鞭炮、吃饺子、吃元宵等习俗。</tspan></text></g>
<g id="p6-4b"><rect class="br" x="1962" y="5536" width="93" height="26" rx="4"/><text class="t" x="1967.5" y="5553.5">(二)主题网络图</text></g>
<g id="p6-4b1"><rect class="br" x="2080" y="5425" width="214" height="26" rx="4"/><text class="t" x="2085.5" y="5442.5">美工活动：包饺子 音乐游戏：放鞭炮</text></g>
<g id="p6-4b2"><rect class="br" x="2080" y="5480" width="178" height="26" rx="4"/><text class="t" x="2085.5" y="5497.5">社会活动：安安全全 恭喜恭喜</text></g>
<g id="p6-4b3"><rect class="br" x="2080" y="5535" width="49" height="26" rx="4"/><text class="t" x="2085.5" y="5552.5">过春节</text></g>
<g id="p6-4b4"><rect class="br" x="2080" y="5590" width="227" height="26" rx="4"/><text class="t" x="2085.5" y="5607.5">音乐活动：恭喜恭喜 语言活动：祝福语</text></g>
<g id="p6-4b5"><rect class="br" x="2080" y="5646" width="73" height="26" rx="4"/><text class="t" x="2085.5" y="5663.5">鞭炮噼啪响</text></g>
<g id="p6-4c"><rect class="br" x="1962" y="5700" width="259" height="41.4" rx="4"/><text class="t" x="1967.5" y="5717">(三)家长配合：给幼儿讲解有关春节的习俗知<tspan x="1967.5" dy="15.7">识。</tspan></text></g>
<g id="p6-5"><rect class="br" x="2246" y="5700" width="257" height="41.4" rx="4"/><text class="t" x="2251.5" y="5717">五、室内活动：韵律操、练习新操、学习各大<tspan x="2251.5" dy="15.7">民族舞蹈的基本动作和步伐，编排成型舞蹈。</tspan></text></g>
</g>
</svg>
